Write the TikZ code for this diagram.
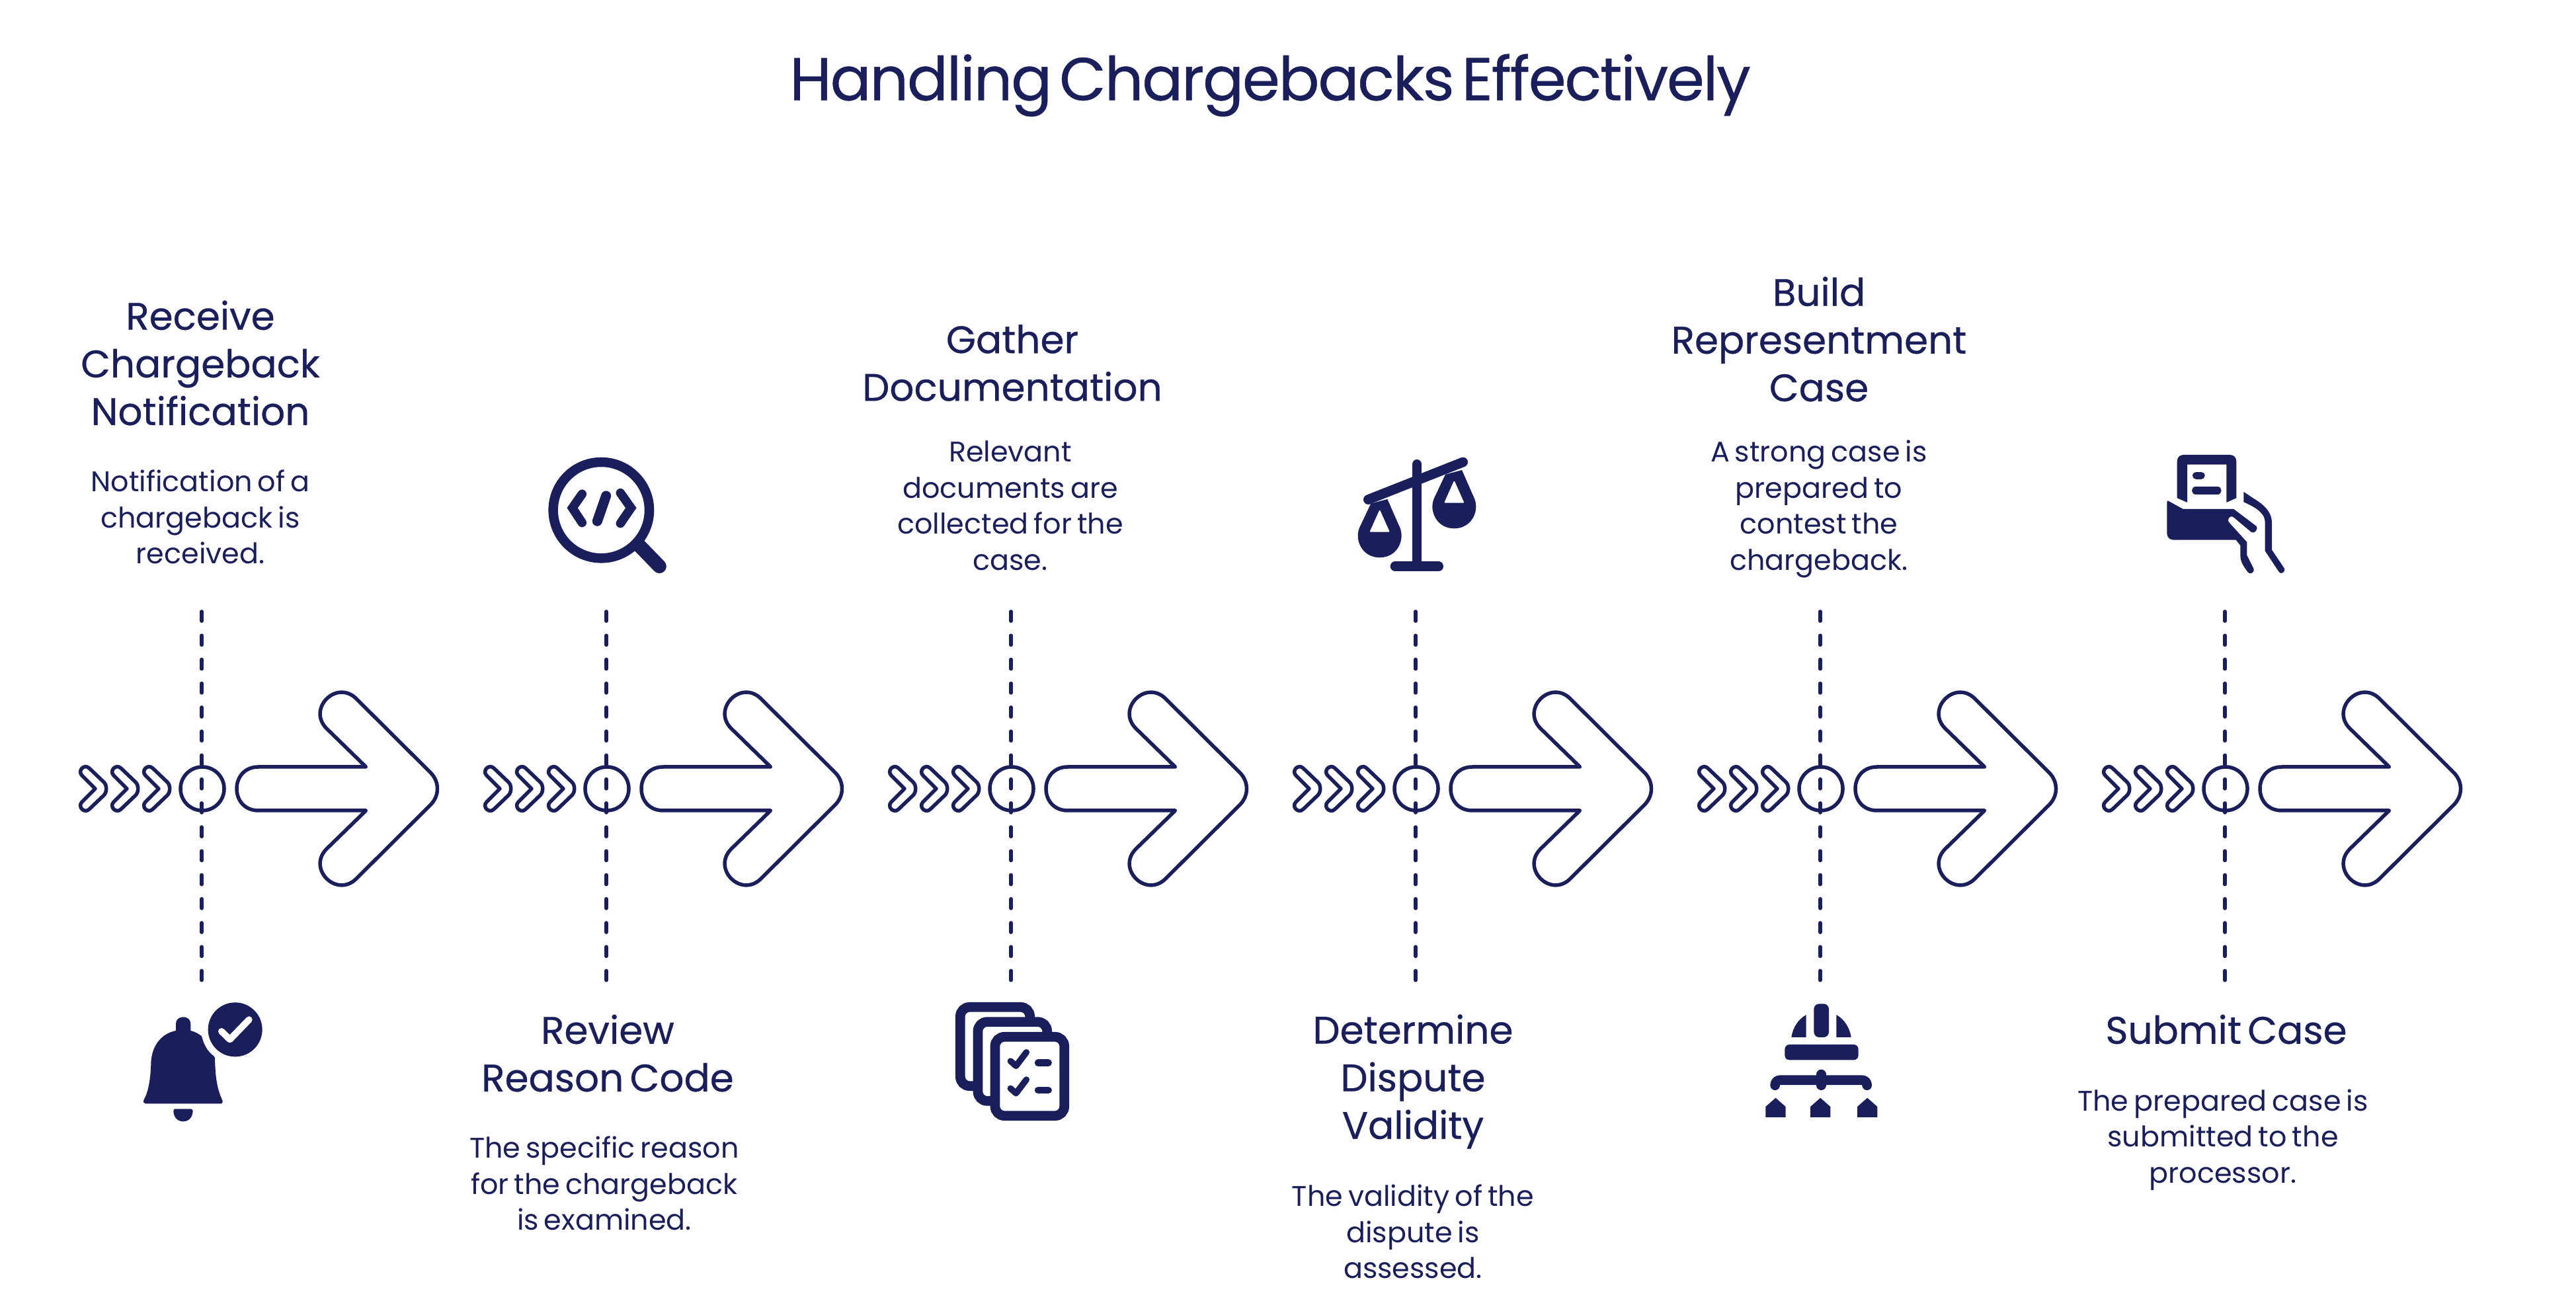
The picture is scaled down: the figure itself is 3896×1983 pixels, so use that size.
\documentclass[tikz,border=0pt]{standalone}
\usepackage{xcolor}
\usepackage{fontspec}
\setmainfont{Poppins}[WordSpace=0.7]
\newfontfamily\titlefont{Poppins}[WordSpace=0.5, LetterSpace=-2.2, FakeBold=0.5]
\newfontfamily\headfont{Poppins}[WordSpace=0.6, FakeBold=0.5]
\usetikzlibrary{positioning}
\definecolor{navy}{HTML}{1A1F5B}

\begin{document}
\begin{tikzpicture}[x=0.01cm, y=-0.01cm, text=navy,
  title/.style={font=\titlefont\fontsize{26}{30}\selectfont, align=center},
  head/.style={font=\headfont\fontsize{16.5}{20.5}\selectfont, align=center},
  body/.style={font=\fontsize{12.2}{15.5}\selectfont, align=center},
  outline/.style={draw=navy, line width=0.055cm, line join=round},
  dashline/.style={draw=navy, line width=0.055cm, line cap=round,
                   dash pattern=on 0.143cm off 0.219cm},
  hub/.style={circle, draw=navy, line width=0.055cm, minimum size=0.66cm, inner sep=0pt},
  solid/.style={fill=navy, draw=none},
  stroke/.style={draw=navy, line cap=round, line join=round},
  page/.style={fill=white, draw=navy, line width=0.147cm, rounded corners=0.14cm}
]
\useasboundingbox (0,0) rectangle (3896,1983);

\node[title] (ttl) at (1921,129) {Handling Chargebacks Effectively};

% arrows and dashed lines of the six steps
\foreach \i in {0,...,5} {
  \begin{scope}[shift={(305+\i*612,1193)}]
    \foreach \k in {0,48,96}
      \draw[outline, xshift=\k*0.01cm] (-161,0) -- (-181,-20)
        .. controls (-188.3,-27.3) and (-177.3,-38.3) .. (-170,-31) -- (-148,-10)
        .. controls (-143,-5) and (-143,5) .. (-148,10) -- (-170,31)
        .. controls (-177.3,38.3) and (-188.3,27.3) .. (-181,20) -- cycle;
    \draw[outline] (86,-33) -- (248.5,-33) -- (189,-91)
      .. controls (159,-121) and (204,-166) .. (234,-136) -- (346,-24.5)
      .. controls (360,-10.5) and (360,10.5) .. (346,24.5) -- (234,136)
      .. controls (204,166) and (159,121) .. (189,91) -- (248.5,33) -- (86,33)
      .. controls (42,33) and (42,-33) .. (86,-33) -- cycle;
    \node[hub] (hub\i) at (1,0) {};
    \coordinate (top\i) at (0,-268);
    \coordinate (bot\i) at (0,290);
    \draw[dashline] (top\i) -- (bot\i);
  \end{scope}
}

% bell
\begin{scope}[shift={(180,1480)}, scale=1/3]
  \fill[solid] (120,568) -- (462,568) .. controls (470,568) and (473,558) .. (467,548)
    .. controls (445,500) and (437,450) .. (435,360) -- (430,352)
    .. controls (400,330) and (385,300) .. (375,262) .. controls (360,250) and (345,242) .. (325,237)
    -- (325,205) .. controls (325,165) and (258,165) .. (258,205) -- (258,237)
    .. controls (190,250) and (145,310) .. (145,390) .. controls (143,450) and (135,510) .. (114,548)
    .. controls (108,560) and (112,568) .. (120,568) -- cycle;
  \fill[solid] (255,592) -- (325,592) .. controls (332,592) and (335,596) .. (335,602)
    .. controls (333,665) and (249,665) .. (247,602) .. controls (247,596) and (250,592) .. (255,592) -- cycle;
  \fill[solid] (527,232) circle (123);
  \draw[draw=white, line width=0.1cm, line cap=round, line join=round]
    (465,240) -- (503,277) -- (590,187);
\end{scope}

% magnifier with code
\begin{scope}[shift={(800,660)}, scale=1/3]
  \draw[draw=navy, line width=0.145cm] (328,335) circle (218);
  \draw[stroke, line width=0.21cm] (497,492) -- (592,590);
  \draw[stroke, line width=0.135cm, line join=miter] (241,262) -- (197,325) -- (241,392);
  \draw[stroke, line width=0.15cm] (350,270) -- (310,385);
  \draw[stroke, line width=0.135cm, line join=miter] (415,257) -- (463,325) -- (415,395);
\end{scope}

% stacked checklists
\begin{scope}[shift={(1420,1490)}, scale=1/3]
  \draw[page] (97,100) rectangle (413,458);
  \draw[page] (177,167) rectangle (491,526);
  \draw[page] (255,235) rectangle (569,593);
  \foreach \d in {0,124} {
    \draw[stroke, line width=0.095cm] (325,345+\d) -- (350,367+\d) -- (397,305+\d);
    \draw[stroke, line width=0.105cm] (450,353+\d) -- (497,353+\d);
  }
\end{scope}

% balance
\begin{scope}[shift={(2030,670)}, scale=1/3]
  \foreach \dx/\dy in {0/0,338/-132} {
    \begin{scope}[shift={(\dx,\dy)}]
      \fill[solid] (130,275) -- (78,385) .. controls (55,440) and (90,520) .. (170,520)
        .. controls (250,520) and (285,440) .. (262,385) -- (205,255) -- cycle;
      \fill[white, draw=white, line width=0.02cm, line join=round] (170,309) -- (211,401) -- (129,401) -- cycle;
    \end{scope}
  }
  \draw[stroke, line width=0.147cm] (339,97) -- (339,560);
  \draw[stroke, line width=0.147cm] (240,560) -- (437,560);
  \draw[stroke, line width=0.147cm] (118,257) -- (548,87);
\end{scope}

% helmet over a tree
\begin{scope}[shift={(2640,1500)}, scale=1/3]
  \fill[solid, rounded corners=0.08cm] (310,207) -- (310,55) -- (378,55) -- (378,207) -- cycle;
  \fill[solid] (275,105) -- (275,207) -- (208,207) .. controls (215,160) and (240,125) .. (275,105) -- cycle;
  \fill[solid] (412,105) -- (412,207) -- (479,207) .. controls (472,160) and (447,125) .. (412,105) -- cycle;
  \fill[solid, rounded corners=0.07cm] (178,240) rectangle (512,310);
  \draw[stroke, line width=0.147cm] (134,425) .. controls (134,408) and (145,401) .. (160,401)
    -- (525,401) .. controls (540,401) and (551,408) .. (551,425);
  \draw[stroke, line width=0.147cm] (343,375) -- (343,425);
  \foreach \h in {91,294,507}
    \fill[solid, shift={(\h,0)}] (0,570) -- (0,522) -- (45.5,482) -- (91,522) -- (91,570) -- cycle;
\end{scope}

% card in a hand
\begin{scope}[shift={(3250,670)}, scale=1/3]
  \fill[solid] (128,250) -- (128,85) .. controls (128,65) and (140,54) .. (158,54) -- (367,54)
    .. controls (385,54) and (397,65) .. (397,85) -- (397,250) -- (352,270) -- (352,98)
    -- (174,98) -- (174,270) -- cycle;
  \draw[stroke, line width=0.113cm] (215,148) -- (237,148);
  \draw[stroke, line width=0.113cm] (212,216) -- (312,216);
  \fill[solid] (88,263) -- (155,300) -- (385,300) -- (488,378) .. controls (498,388) and (480,415) .. (465,405)
    -- (385,338) .. controls (370,325) and (350,345) .. (365,362) -- (445,450) -- (445,510) -- (475,570)
    .. controls (482,590) and (455,600) .. (448,585) .. controls (430,560) and (415,540) .. (415,510)
    -- (415,465) -- (395,440) -- (112,440) .. controls (92,440) and (82,425) .. (82,410)
    -- (82,270) .. controls (82,263) and (85,261) .. (88,263) -- cycle;
  \fill[solid] (430,222) -- (480,255) .. controls (530,285) and (558,320) .. (558,360) -- (558,485)
    -- (615,570) .. controls (622,585) and (597,600) .. (590,585) -- (527,490) -- (527,360)
    .. controls (527,320) and (490,295) .. (430,268) -- cycle;
\end{scope}

% texts
\node[head] (hd0) at (303,549) {Receive\\Chargeback\\Notification};
\node[body] (tx0) at (303,782) {Notification of a\\chargeback is\\received.};
\node[head] (hd1) at (919,1593) {Review\\Reason Code};
\node[body] (tx1) at (914,1790) {The specific reason\\for the chargeback\\is examined.};
\node[head] (hd2) at (1531,549) {Gather\\Documentation};
\node[body] (tx2) at (1528,765) {Relevant\\documents are\\collected for the\\case.};
\node[head] (hd3) at (2137,1636) {Determine\\Dispute\\Validity};
\node[body] (tx3) at (2137,1863) {The validity of the\\dispute is\\assessed.};
\node[head] (hd4) at (2751,513) {Build\\Representment\\Case};
\node[body] (tx4) at (2751,770) {A strong case is\\prepared to\\contest the\\chargeback.};
\node[head] (hd5) at (3367,1557) {Submit Case};
\node[body] (tx5) at (3362,1724) {The prepared case is\\submitted to the\\processor.};
\end{tikzpicture}
\end{document}
